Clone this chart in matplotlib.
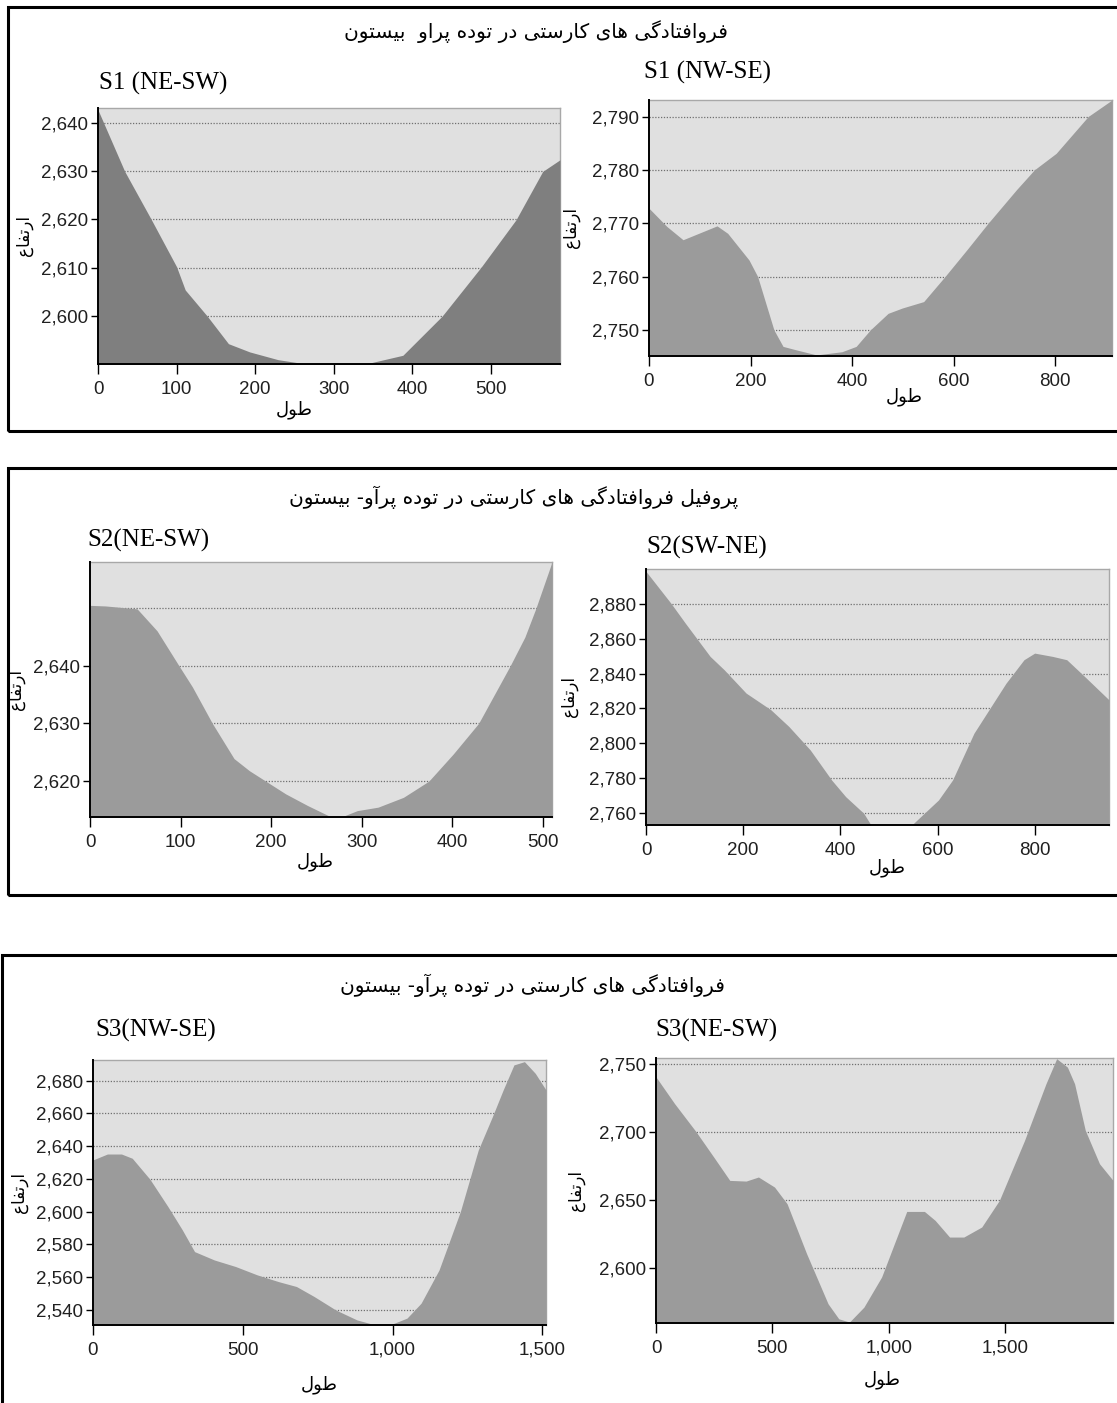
import matplotlib
matplotlib.use("Agg")
import matplotlib.pyplot as plt
from matplotlib.ticker import StrMethodFormatter
from matplotlib.patches import Rectangle

# ---------------------------------------------------------------- data
# S1 (NE-SW)
s1a_x = [0, 34, 68, 100, 111, 139, 166, 193, 229, 261, 343, 388, 438, 488, 532, 566, 588]
s1a_y = [2642.6, 2629.9, 2619.9, 2610.2, 2605.4, 2600, 2594.3, 2592.6, 2591, 2590.2,
         2590.2, 2591.9, 2600, 2610.2, 2619.9, 2629.9, 2632.3]
# S1 (NW-SE)
s1b_x = [0, 35, 67, 134, 155, 197, 214, 246, 264, 288, 330, 380, 408, 436, 471, 499,
         541, 583, 626, 668, 724, 759, 802, 865, 912]
s1b_y = [2772.8, 2769.4, 2766.9, 2769.5, 2768.1, 2763.1, 2760, 2750, 2746.9, 2746.3,
         2745.3, 2745.9, 2746.9, 2750, 2753.1, 2754.1, 2755.3, 2760, 2765, 2770,
         2776.3, 2780, 2783.1, 2790, 2793.1]
# S2 (NE-SW)
s2a_x = [0, 17, 52, 74, 98, 113, 135, 159, 176, 194, 216, 240, 265, 279, 295, 318,
         346, 374, 401, 429, 464, 480, 492, 510]
s2a_y = [2650.4, 2650.3, 2649.8, 2646, 2640, 2636.3, 2630, 2623.9, 2621.8, 2620,
         2617.8, 2615.8, 2613.9, 2613.9, 2614.9, 2615.5, 2617.2, 2620, 2624.7, 2630,
         2640, 2644.9, 2649.8, 2657.9]
# S2 (SW-NE)
s2b_x = [0, 51, 81, 132, 161, 206, 257, 294, 338, 382, 411, 448, 465, 500, 540, 558,
         602, 631, 675, 741, 778, 800, 837, 866, 903, 953]
s2b_y = [2898.8, 2880.6, 2869, 2849.9, 2842.2, 2828.8, 2819.2, 2809.6, 2796.1, 2778.8,
         2769.2, 2759.7, 2752, 2749, 2751, 2755.8, 2767.3, 2778.8, 2805.7, 2834.5,
         2848, 2851.8, 2849.9, 2848, 2838.3, 2824.9]
# S3 (NW-SE)
s3a_x = [0, 48, 95, 131, 190, 250, 298, 339, 405, 476, 548, 619, 679, 738, 810, 881,
         929, 1000, 1048, 1095, 1155, 1226, 1286, 1333, 1369, 1405, 1440, 1476, 1512]
s3a_y = [2631.6, 2635.2, 2635.2, 2632.6, 2619.8, 2603.1, 2588.9, 2575.6, 2570.5,
         2566.5, 2561.4, 2557.3, 2554.3, 2548.2, 2540, 2533.9, 2531.5, 2531.5, 2535,
         2544.1, 2564.4, 2600, 2637.7, 2658, 2674.3, 2689.6, 2691.6, 2684.5, 2674.3]
# S3 (NE-SW)
s3b_x = [0, 80, 172, 248, 317, 387, 440, 509, 563, 647, 739, 785, 831, 893, 969, 1077,
         1153, 1199, 1261, 1322, 1399, 1475, 1583, 1675, 1721, 1767, 1798, 1844, 1905, 1963]
s3b_y = [2740.7, 2721, 2700.3, 2681.6, 2664.4, 2663.9, 2666.9, 2659.5, 2647.2, 2610.3,
         2573.4, 2562.3, 2559.9, 2570.9, 2593.1, 2641.5, 2641.5, 2634.9, 2622.6, 2622.6,
         2630, 2649.7, 2693.9, 2735.7, 2754.2, 2748, 2735.7, 2701.3, 2676.7, 2664.4]

panel_names = ["S1 (NE-SW)", "S1 (NW-SE)", "S2(NE-SW)", "S2(SW-NE)", "S3(NW-SE)", "S3(NE-SW)"]
box_titles = ["فروافتادگی های کارستی در توده پراو  بیستون",
              "پروفیل فروافتادگی های کارستی در توده پرآو- بیستون",
              "فروافتادگی های کارستی در توده پرآو- بیستون"]
x_label = "طول"
y_label = "ارتفاع"

x_ticks = [range(0, 501, 100), range(0, 801, 200), range(0, 501, 100),
           range(0, 801, 200), range(0, 1501, 500), range(0, 1501, 500)]
y_ticks = [range(2600, 2641, 10), range(2750, 2791, 10), range(2620, 2641, 10),
           range(2760, 2881, 20), range(2540, 2681, 20), range(2600, 2751, 50)]
extra_grid = [[], [], [2650], [], [], []]


# ---------------------------------------------------------------- persian shaping
# matplotlib has no arabic shaping, so pick presentation forms by hand
FORMS = {
    'ا': (0xFE8D, 0xFE8E), 'آ': (0xFE81, 0xFE82), 'د': (0xFEA9, 0xFEAA),
    'ر': (0xFEAD, 0xFEAE), 'و': (0xFEED, 0xFEEE),
    'ب': (0xFE8F, 0xFE90, 0xFE91, 0xFE92), 'پ': (0xFB56, 0xFB57, 0xFB58, 0xFB59),
    'ت': (0xFE95, 0xFE96, 0xFE97, 0xFE98), 'س': (0xFEB1, 0xFEB2, 0xFEB3, 0xFEB4),
    'ط': (0xFEC1, 0xFEC2, 0xFEC3, 0xFEC4), 'ع': (0xFEC9, 0xFECA, 0xFECB, 0xFECC),
    'ف': (0xFED1, 0xFED2, 0xFED3, 0xFED4), 'ک': (0xFB8E, 0xFB8F, 0xFB90, 0xFB91),
    'گ': (0xFB92, 0xFB93, 0xFB94, 0xFB95), 'ل': (0xFEDD, 0xFEDE, 0xFEDF, 0xFEE0),
    'ن': (0xFEE5, 0xFEE6, 0xFEE7, 0xFEE8), 'ه': (0xFEE9, 0xFEEA, 0xFEEB, 0xFEEC),
    'ی': (0xFBFC, 0xFBFD, 0xFBFE, 0xFBFF),
}


def farsi(text):
    out = []
    for i, ch in enumerate(text):
        f = FORMS.get(ch)
        if f is None:
            out.append(ch)
            continue
        prev = FORMS.get(text[i - 1]) if i > 0 else None
        nxt = FORMS.get(text[i + 1]) if i + 1 < len(text) else None
        a = prev is not None and len(prev) == 4
        b = nxt is not None and len(f) == 4
        if a and b:
            out.append(chr(f[3]))
        elif a:
            out.append(chr(f[1]))
        elif b:
            out.append(chr(f[2]))
        else:
            out.append(chr(f[0]))
    return ''.join(reversed(out))


# ---------------------------------------------------------------- layout (pixels)
W, H = 1117, 1403
fig = plt.figure(figsize=(W / 100, H / 100), dpi=100)
fig.patch.set_facecolor("white")

TICKFONT = "Liberation Sans"
SERIF = ["Liberation Serif", "DejaVu Serif"]

# boxes: left, top, right, bottom
boxes = [(8, 7, 1119, 431), (8, 468, 1119, 895), (2, 955, 1119, 1410)]
for l, t, r, b in boxes:
    fig.patches.append(Rectangle((l / W, 1 - b / H), (r - l) / W, (b - t) / H,
                                 transform=fig.transFigure, fill=False,
                                 edgecolor="black", linewidth=2.2))

title_pos = [(536, 32), (514, 497), (532, 985)]
for txt, (cx, cy) in zip(box_titles, title_pos):
    fig.text(cx / W, 1 - cy / H, farsi(txt), ha="center", va="center",
             fontsize=14.5, family="DejaVu Sans")

# axes rectangles: left, top, right, bottom
rects = [(98, 108, 560, 364), (649, 100, 1112, 356), (90, 562, 552, 817),
         (646, 569, 1109, 825), (93, 1060, 546, 1325), (656, 1058, 1113, 1323)]
ylims = [(2590.1, 2643), (2745.1, 2793.1), (2613.8, 2657.9),
         (2752.9, 2900.2), (2530.8, 2692.6), (2559.2, 2754.7)]
fills = ["#7f7f7f", "#9b9b9b", "#9b9b9b", "#9b9b9b", "#9b9b9b", "#9b9b9b"]
name_pos = [(99, 83), (644, 72), (87, 540), (646, 547), (95, 1030), (655, 1030)]
xlab_pos = [(294, 410), (904, 397), (315, 862), (887, 868), (319, 1385), (882, 1380)]
ylab_x = [24, 571, 16, 569, 19, 576]

series = [(s1a_x, s1a_y), (s1b_x, s1b_y), (s2a_x, s2a_y),
          (s2b_x, s2b_y), (s3a_x, s3a_y), (s3b_x, s3b_y)]

for i, (xs, ys) in enumerate(series):
    l, t, r, b = rects[i]
    ax = fig.add_axes([l / W, 1 - b / H, (r - l) / W, (b - t) / H])
    ax.set_facecolor("#e0e0e0")
    ax.fill_between(xs, ys, ylims[i][0] - 50, color=fills[i], linewidth=0, zorder=3)
    ax.set_xlim(0, xs[-1])
    ax.set_ylim(*ylims[i])
    ax.set_xticks(list(x_ticks[i]))
    ax.set_yticks(list(y_ticks[i]))
    ax.xaxis.set_major_formatter(StrMethodFormatter("{x:,.0f}"))
    ax.yaxis.set_major_formatter(StrMethodFormatter("{x:,.0f}"))
    ax.grid(axis="y", color="#707070", linestyle=(0, (1, 1.3)), linewidth=0.9, zorder=1)
    for g in extra_grid[i]:
        ax.axhline(g, color="#707070", linestyle=(0, (1, 1.3)), linewidth=0.9, zorder=1)
    ax.set_axisbelow(True)
    for side in ("top", "right"):
        ax.spines[side].set_color("#a8a8a8")
        ax.spines[side].set_linewidth(1.0)
    for side in ("left", "bottom"):
        ax.spines[side].set_color("black")
        ax.spines[side].set_linewidth(1.4)
        ax.spines[side].set_zorder(5)
    ax.tick_params(axis="y", direction="out", length=5, width=1, pad=2, labelsize=13.5,
                   labelcolor="#202020")
    ax.tick_params(axis="x", direction="out", length=7, width=1, pad=5, labelsize=13.5,
                   labelcolor="#202020")
    for lab in ax.get_xticklabels() + ax.get_yticklabels():
        lab.set_family(TICKFONT)

    nx, ny = name_pos[i]
    fig.text(nx / W, 1 - ny / H, panel_names[i], ha="left", va="center",
             fontsize=18, family=SERIF)
    xx, xy = xlab_pos[i]
    fig.text(xx / W, 1 - xy / H, farsi(x_label), ha="center", va="center",
             fontsize=13, family="DejaVu Sans")
    fig.text(ylab_x[i] / W, 1 - ((t + b) / 2) / H, farsi(y_label), ha="center",
             va="center", rotation=90, fontsize=12, family="DejaVu Sans")

fig.savefig("out.png", dpi=100)
